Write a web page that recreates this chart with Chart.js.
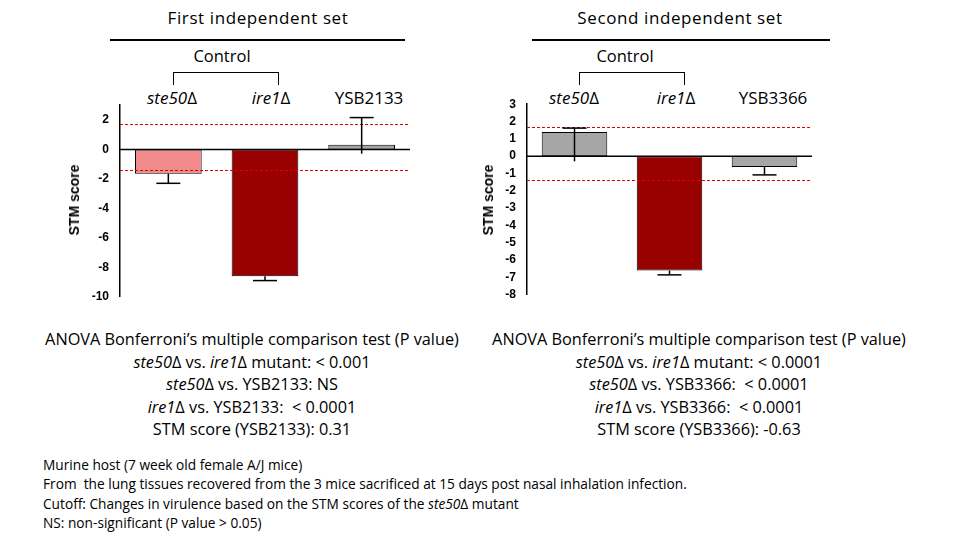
<!DOCTYPE html>
<html><head><meta charset="utf-8">
<script src="https://cdn.jsdelivr.net/npm/chart.js@4"></script>
<style>
body{margin:0;width:960px;height:535px;position:relative;background:#fff;font-family:"Open Sans","Liberation Sans",sans-serif;overflow:hidden}
.t{position:absolute;white-space:nowrap;color:#000}
.c{transform:translateX(-50%)}
canvas{position:absolute}
.hl{position:absolute;height:2px;background:#000}
.br{position:absolute;border:1px solid #000;border-bottom:none;height:12px}
</style></head><body>
<div class="t c" style="left:258px;top:6px;font-size:17px;letter-spacing:0.6px">First independent set</div>
<div class="hl" style="left:110px;top:39px;width:295px"></div>
<div class="t c" style="left:680px;top:6px;font-size:17px;letter-spacing:0.6px">Second independent set</div>
<div class="hl" style="left:532px;top:39px;width:298px"></div>
<div class="t c" style="left:222px;top:44px;font-size:16.5px">Control</div>
<div class="br" style="left:173px;top:72px;width:104px"></div>
<div class="t c" style="left:625px;top:44px;font-size:16.5px">Control</div>
<div class="br" style="left:579px;top:72px;width:104px"></div>
<div class="t c" style="left:172px;top:86px;font-size:17px"><i>ste50</i>Δ</div>
<div class="t c" style="left:271px;top:86px;font-size:17px"><i>ire1</i>Δ</div>
<div class="t c" style="left:369px;top:86px;font-size:17px">YSB2133</div>
<div class="t c" style="left:574px;top:86px;font-size:17px"><i>ste50</i>Δ</div>
<div class="t c" style="left:676px;top:86px;font-size:17px"><i>ire1</i>Δ</div>
<div class="t c" style="left:773px;top:86px;font-size:17px">YSB3366</div>
<canvas id="c1"></canvas><canvas id="c2"></canvas>
<div class="t c" style="left:252px;top:328px;font-size:16.3px;line-height:22.5px;text-align:center">ANOVA Bonferroni’s multiple comparison test (P value)<br><i>ste50</i>Δ vs. <i>ire1</i>Δ mutant: &lt; 0.001<br><i>ste50</i>Δ vs. YSB2133: NS<br><i>ire1</i>Δ vs. YSB2133: &nbsp;&lt; 0.0001<br>STM score (YSB2133): 0.31</div>
<div class="t c" style="left:699px;top:328px;font-size:16.3px;line-height:22.5px;text-align:center">ANOVA Bonferroni’s multiple comparison test (P value)<br><i>ste50</i>Δ vs. <i>ire1</i>Δ mutant: &lt; 0.0001<br><i>ste50</i>Δ vs. YSB3366: &nbsp;&lt; 0.0001<br><i>ire1</i>Δ vs. YSB3366: &nbsp;&lt; 0.0001<br>STM score (YSB3366): -0.63</div>
<div class="t" style="left:43px;top:455px;font-size:13.7px;line-height:19.3px">Murine host (7 week old female A/J mice)<br>From &nbsp;the lung tissues recovered from the 3 mice sacrificed at 15 days post nasal inhalation infection.<br>Cutoff: Changes in virulence based on the STM scores of the <i>ste50</i>Δ mutant<br>NS: non-significant (P value &gt; 0.05)</div>
<script>
const categories1 = ["ste50Δ","ire1Δ","YSB2133"];
const values1 = [-1.65, -8.6, 0.31];
const errUp1 = [0, 0, 1.85];
const errDown1 = [0.65, 0.3, 0.6];
const cutoffs1 = [1.7, -1.4];
const colors1 = ["#f28c8c","#990000","#a6a6a6"];

const categories2 = ["ste50Δ","ire1Δ","YSB3366"];
const values2 = [1.4, -6.6, -0.63];
const errUp2 = [0.22, 0, 0];
const errDown2 = [1.7, 0.25, 0.45];
const cutoffs2 = [1.7, -1.35];
const colors2 = ["#a6a6a6","#990000","#a6a6a6"];

function make(id, left, top, w, h, cats, vals, up, down, cuts, cols, ymin, ymax){
  const cv = document.getElementById(id);
  cv.width=w; cv.height=h;
  cv.style.left = left+'px'; cv.style.top = top+'px';
  cv.style.width = w+'px'; cv.style.height = h+'px';
  const plug = {id:'eb'+id, afterDatasetsDraw(ch){
    const c = ch.ctx, ys = ch.scales.y, a = ch.chartArea;
    c.save();
    c.strokeStyle='#d00'; c.lineWidth=1; c.setLineDash([3,2]);
    cuts.forEach(v=>{const y=Math.round(ys.getPixelForValue(v))+0.5;c.beginPath();c.moveTo(a.left,y);c.lineTo(a.right,y);c.stroke();});
    c.setLineDash([]); c.strokeStyle='#000'; c.lineWidth=1.5;
    ch.getDatasetMeta(0).data.forEach((b,i)=>{
      const v=vals[i], x=b.x;
      const y1=ys.getPixelForValue(v+up[i]), y2=ys.getPixelForValue(v-down[i]);
      c.beginPath();c.moveTo(x,y1);c.lineTo(x,y2);c.stroke();
      const yc = v>=0 ? y1 : y2;
      c.beginPath();c.moveTo(x-12,yc);c.lineTo(x+12,yc);c.stroke();
    });
    const y0=ys.getPixelForValue(0);
    c.lineWidth=1.5;c.beginPath();c.moveTo(a.left,y0);c.lineTo(a.right,y0);c.stroke();
    c.restore();
  }};
  new Chart(cv,{type:'bar',
    data:{labels:cats,datasets:[{data:vals,backgroundColor:cols,borderColor:'#000',borderWidth:1,borderSkipped:false,barPercentage:0.69,categoryPercentage:1}]},
    options:{responsive:false,animation:false,devicePixelRatio:1,
      layout:{padding:{top:6,bottom:6,right:2,left:0}},
      plugins:{legend:{display:false},tooltip:{enabled:false}},
      scales:{x:{display:false},
        y:{min:ymin,max:ymax,afterFit(s){s.width=40;},
          ticks:{stepSize:1,color:'#000',font:{family:'Liberation Sans',weight:'bold',size:12},padding:3},
          grid:{display:false},border:{color:'#000',width:1.5}}}}
    ,plugins:[plug]});
}
make('c1',80,95,332,212,categories1,values1,errUp1,errDown1,cutoffs1,colors1,-10,3);
make('c2',487,94,327,211,categories2,values2,errUp2,errDown2,cutoffs2,colors2,-8,3);
</script>
<div class="t" style="left:74px;top:200px;font-size:14px;font-weight:bold;font-family:'Liberation Sans';transform:translate(-50%,-50%) rotate(-90deg)">STM score</div>
<div class="t" style="left:488px;top:200px;font-size:14px;font-weight:bold;font-family:'Liberation Sans';transform:translate(-50%,-50%) rotate(-90deg)">STM score</div>
</body></html>
